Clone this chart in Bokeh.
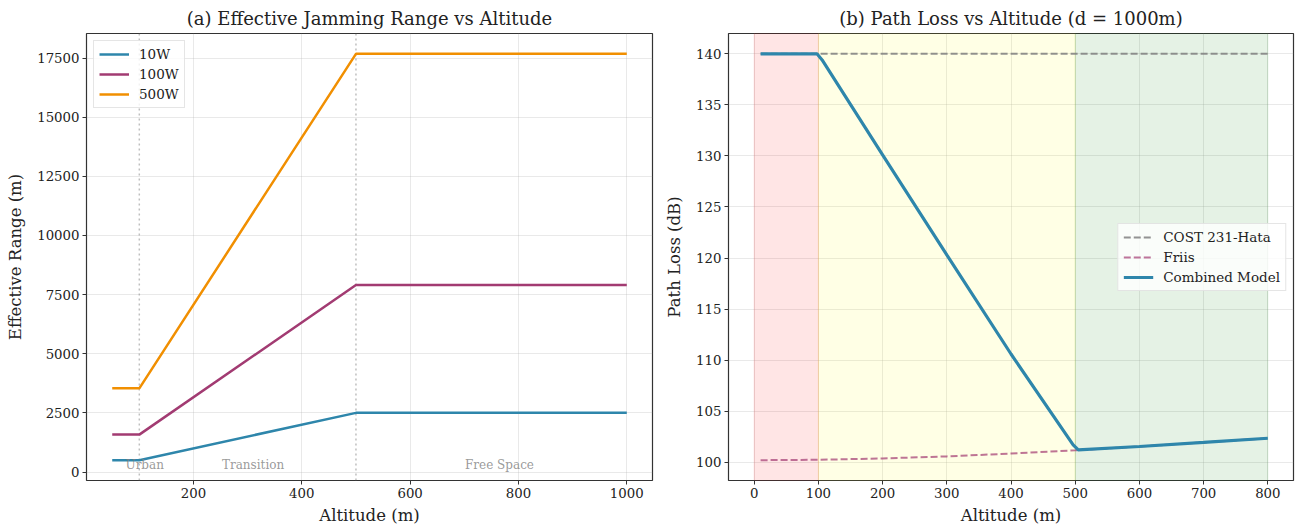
from bokeh.plotting import figure
from bokeh.layouts import row
from bokeh.models import Range1d, FixedTicker, Span, BoxAnnotation, Legend
from bokeh.core.properties import value
from bokeh.embed import file_html
from bokeh.resources import INLINE

# ---------------- data: panel (a) ----------------
altitude_a = [50, 100, 500, 1000]
range_10w = [500, 500, 2500, 2500]
range_100w = [1581, 1581, 7906, 7906]
range_500w = [3536, 3536, 17678, 17678]
zone_bounds_a = [100, 500]
zone_labels = ["Urban", "Transition", "Free Space"]
zone_label_x = [110, 310, 765]
zone_label_y = [0, 0, 0]
xticks_a = [200, 400, 600, 800, 1000]
yticks_a = [0, 2500, 5000, 7500, 10000, 12500, 15000, 17500]

# ---------------- data: panel (b) ----------------
alt_cost = [10, 800]
pl_cost = [140, 140]
alt_friis = [10, 100, 200, 300, 400, 500, 600, 700, 800]
pl_friis = [100.2, 100.24, 100.37, 100.57, 100.85, 101.17, 101.54, 101.94, 102.35]
alt_comb = [10, 97.8, 105.8, 200, 300, 400, 496.8, 504.8, 600, 700, 800]
pl_comb = [140, 140, 139.4, 130.1, 120.3, 110.6, 101.7, 101.2, 101.54, 101.94, 102.35]
zone_edges_b = [0, 100, 500, 800]
zone_colors_b = ["#ff0000", "#ffff00", "#008000"]
xticks_b = [0, 100, 200, 300, 400, 500, 600, 700, 800]
yticks_b = [100, 105, 110, 115, 120, 125, 130, 135, 140]

FONT = "DejaVu Serif"
BLUE, PURPLE, ORANGE = "#2E86AB", "#A23B72", "#F18F01"


def style(p, title):
    p.title.text = title
    p.title.text_font = FONT
    p.title.text_font_size = "18px"
    p.title.text_font_style = "normal"
    p.title.align = "center"
    p.title.text_color = "#222222"
    p.outline_line_color = "#333333"
    p.outline_line_width = 1.2
    p.background_fill_color = "white"
    p.border_fill_color = "white"
    for ax in (p.xaxis[0], p.yaxis[0]):
        ax.axis_line_color = None
        ax.major_tick_out = 4
        ax.major_tick_in = 0
        ax.major_tick_line_color = "#333333"
        ax.minor_tick_line_color = None
        ax.major_label_text_font = FONT
        ax.major_label_text_font_size = "13.3px"
        ax.major_label_text_color = "#222222"
        ax.major_label_standoff = 3
        ax.axis_label_text_font = FONT
        ax.axis_label_text_font_size = "16.5px"
        ax.axis_label_text_font_style = "normal"
        ax.axis_label_text_color = "#222222"
    p.xaxis[0].axis_label_standoff = 5
    p.yaxis[0].axis_label_standoff = 9
    for g in (p.xgrid[0], p.ygrid[0]):
        g.grid_line_color = "#b0b0b0"
        g.grid_line_alpha = 0.35
        g.grid_line_width = 0.8


def style_legend(leg, loc):
    leg.location = loc
    leg.margin = 7
    leg.padding = 5
    leg.spacing = 4
    leg.glyph_width = 30
    leg.glyph_height = 16
    leg.label_height = 16
    leg.label_standoff = 10
    leg.label_text_font = FONT
    leg.label_text_font_size = "13.5px"
    leg.label_text_color = "#222222"
    leg.background_fill_color = "white"
    leg.background_fill_alpha = 0.8
    leg.border_line_color = "#cccccc"
    leg.border_line_width = 1


# ---------------- panel (a) ----------------
pa = figure(width=662, height=528, output_backend="svg", toolbar_location=None,
            x_range=Range1d(2.5, 1047.5), y_range=Range1d(-359, 18537),
            min_border_left=86, min_border_right=10, min_border_top=33, min_border_bottom=48)
style(pa, "(a) Effective Jamming Range vs Altitude")
pa.xaxis.axis_label = "Altitude (m)"
pa.yaxis.axis_label = "Effective Range (m)"
pa.xaxis.ticker = FixedTicker(ticks=xticks_a)
pa.yaxis.ticker = FixedTicker(ticks=yticks_a)

for b in zone_bounds_a:
    pa.add_layout(Span(location=b, dimension="height", line_color="gray", line_alpha=0.5,
                       line_width=1.5, line_dash="2 3", level="underlay"))

pa.line(altitude_a, range_10w, line_color=BLUE, line_width=2.5, legend_label="10W")
pa.line(altitude_a, range_100w, line_color=PURPLE, line_width=2.5, legend_label="100W")
pa.line(altitude_a, range_500w, line_color=ORANGE, line_width=2.5, legend_label="500W")
pa.text(x=zone_label_x, y=zone_label_y, text=zone_labels, text_font=value(FONT),
        text_font_size=value("12px"), text_align="center", text_baseline="bottom",
        text_color="gray", text_alpha=0.8)
style_legend(pa.legend[0], "top_left")

# ---------------- panel (b) ----------------
pb = figure(width=636, height=528, output_backend="svg", toolbar_location=None,
            x_range=Range1d(-40, 840), y_range=Range1d(98.21, 141.99),
            min_border_left=65, min_border_right=5, min_border_top=33, min_border_bottom=48)
style(pb, "(b) Path Loss vs Altitude (d = 1000m)")
pb.xaxis.axis_label = "Altitude (m)"
pb.yaxis.axis_label = "Path Loss (dB)"
pb.xaxis.ticker = FixedTicker(ticks=xticks_b)
pb.yaxis.ticker = FixedTicker(ticks=yticks_b)

for i, c in enumerate(zone_colors_b):
    pb.add_layout(BoxAnnotation(left=zone_edges_b[i], right=zone_edges_b[i + 1],
                                fill_color=c, fill_alpha=0.1, line_color=c, line_alpha=0.12,
                                line_width=1, level="underlay"))

pb.line(alt_cost, pl_cost, line_color="gray", line_alpha=0.85, line_width=2,
        line_dash="7 3", legend_label="COST 231-Hata")
pb.line(alt_friis, pl_friis, line_color=PURPLE, line_alpha=0.7, line_width=2,
        line_dash="7 3", legend_label="Friis")
pb.line(alt_comb, pl_comb, line_color=BLUE, line_width=3.2, legend_label="Combined Model")
style_legend(pb.legend[0], "center_right")

layout = row(pa, pb)
open("out.html", "w").write(file_html(layout, INLINE))
